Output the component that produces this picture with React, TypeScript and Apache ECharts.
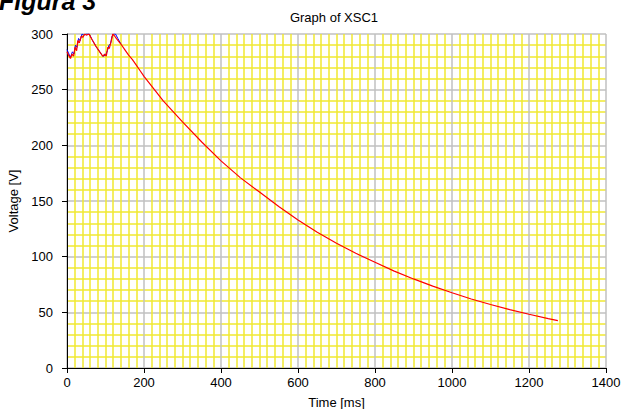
import React, { useEffect, useRef } from 'react';
import * as echarts from 'echarts';

// Values
const redTimeMs = [0, 4, 9, 13, 17, 21, 25, 28, 32, 37, 41, 46, 50, 57, 65, 75, 85, 93, 98, 102, 106, 110, 115, 119, 124, 128, 140, 150, 160, 170, 180, 190, 200, 250, 300, 350, 400, 450, 500, 550, 600, 650, 700, 750, 800, 850, 900, 950, 1000, 1050, 1100, 1150, 1200, 1250, 1275];
const redVoltage = [284, 281, 278, 282, 280, 288, 285, 294, 292, 298, 297, 300, 299, 300, 295, 289, 284, 280, 282, 280, 288, 287, 294, 300, 298, 296, 291, 286, 281, 277, 272, 267, 262, 240, 221, 203, 186, 171, 158, 145, 133, 122, 112, 103, 95, 87, 80, 73.5, 67.6, 62, 57, 52.5, 48.3, 44.4, 42.5];

const blueTimeMs = [0, 5, 9, 14, 18, 22, 26, 30, 34, 39, 44, 50, 58, 65, 75, 85, 93, 100, 105, 109, 113, 117, 121, 126, 132, 140];
const blueVoltage = [286, 282, 279, 284, 282, 290, 288, 296, 294, 300, 299, 300, 300, 295, 289, 284, 280, 281, 285, 290, 291, 298, 300, 300, 296, 291];

const xMin = 0;
const xMax = 1400;
const xInterval = 200;
const yMin = 0;
const yMax = 300;
const yInterval = 50;

const FONT = 'Liberation Sans, Arial, sans-serif';

export default function App() {
  const ref = useRef<HTMLDivElement>(null);

  useEffect(() => {
    const chart = echarts.init(ref.current!, null, { renderer: 'svg' });
    const axisCommon = {
      type: 'value',
      axisLine: { show: true, onZero: false, lineStyle: { color: '#000', width: 1 } },
      axisTick: { show: true, length: 5, inside: false, lineStyle: { color: '#000', width: 1 } },
      splitLine: { show: true, lineStyle: { color: '#c0c0c0', width: 1.5 } },
      minorSplitLine: { show: true, lineStyle: { color: '#f0e830', width: 1.5 } },
      nameTextStyle: { color: '#000', fontSize: 13, fontFamily: FONT },
    };
    chart.setOption({
      animation: false,
      backgroundColor: '#fff',
      grid: { left: 67, right: 15, top: 34, bottom: 41, containLabel: false, outerBoundsMode: 'none' },
      xAxis: {
        ...axisCommon,
        min: xMin,
        max: xMax,
        interval: xInterval,
        minorTick: { show: false, splitNumber: 10 },
        axisLabel: { color: '#000', fontSize: 13, fontFamily: FONT, margin: 8, formatter: (v: number) => String(v) },
        name: 'Time [ms]',
        nameLocation: 'middle',
        nameGap: 28,
      },
      yAxis: {
        ...axisCommon,
        min: yMin,
        max: yMax,
        interval: yInterval,
        minorTick: { show: false, splitNumber: 5 },
        axisLabel: { color: '#000', fontSize: 13, fontFamily: FONT, margin: 14, formatter: (v: number) => String(v) },
        name: 'Voltage [V]',
        nameLocation: 'middle',
        nameGap: 46,
      },
      series: [
        {
          type: 'line',
          data: blueTimeMs.map((t, i) => [t, blueVoltage[i]]),
          showSymbol: false,
          clip: true,
          lineStyle: { color: '#0000ff', width: 1 },
          z: 2,
        },
        {
          type: 'line',
          data: redTimeMs.map((t, i) => [t, redVoltage[i]]),
          showSymbol: false,
          clip: true,
          lineStyle: { color: '#ff0000', width: 1.2 },
          z: 3,
        },
      ],
      graphic: [
        {
          type: 'text',
          x: 334,
          y: 17,
          style: { text: 'Graph of XSC1', fill: '#000', fontSize: 13, fontFamily: FONT, align: 'center', verticalAlign: 'middle' },
        },
        {
          type: 'text',
          x: -1,
          y: 1,
          style: { text: 'Figura 3', fill: '#000', fontSize: 25, fontWeight: 'bold', fontStyle: 'italic', fontFamily: FONT, align: 'left', verticalAlign: 'middle' },
        },
      ],
    });
    return () => chart.dispose();
  }, []);

  return (
    <div
      ref={ref}
      style={{ position: 'fixed', left: 0, top: 0, width: 621, height: 409, background: '#fff' }}
    />
  );
}
